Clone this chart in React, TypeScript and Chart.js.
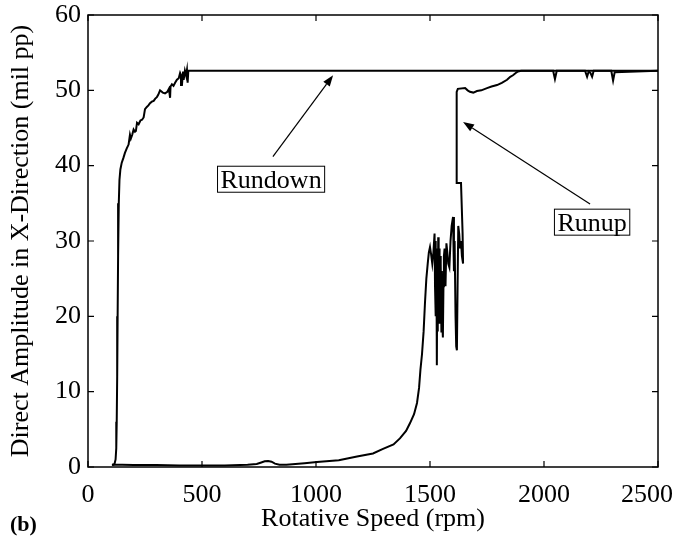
import React, { useEffect, useRef } from "react";
import { Chart, registerables } from "chart.js";

Chart.register(...registerables);

const FONT = "'Liberation Serif', 'Times New Roman', serif";

// Axis ticks
const xTicks = [0, 500, 1000, 1500, 2000, 2500];
const yTicks = [0, 10, 20, 30, 40, 50, 60];

// Rundown (speed decreasing)
const rundownSpeed = [
  2500, 440, 437, 434, 430, 425, 420, 417, 412, 408,
  404, 398, 390, 382, 375, 368, 362, 360, 355, 348,
  338, 328, 316, 308, 302, 295, 288, 280, 272, 265,
  258, 250, 244, 237, 230, 222, 215, 210, 206, 200,
  194, 188, 184, 178, 170, 162, 155, 148, 142, 138,
  135, 132, 130, 128, 126, 124, 121, 117, 112, 105,
];
const rundownAmp = [
  52.6, 52.6, 51.0, 52.7, 52.0, 52.6, 51.5, 52.5, 50.7, 52.0,
  52.3, 51.6, 51.4, 51.0, 50.6, 50.8, 50.5, 49.0, 50.2, 49.8,
  49.6, 49.7, 50.0, 49.4, 49.1, 48.9, 48.6, 48.5, 48.3, 48.0,
  47.8, 47.5, 46.4, 46.1, 46.0, 45.5, 45.7, 44.6, 44.5, 44.8,
  44.1, 43.6, 44.1, 42.8, 42.3, 41.7, 41.0, 40.4, 39.5, 38.1,
  35.0, 28.0, 20.0, 12.0, 6.0, 2.5, 1.0, 0.5, 0.3, 0.3,
];

// Runup (speed increasing)
const runupSpeed = [
  105, 150, 200, 300, 400, 500, 600, 700, 740, 760,
  775, 790, 805, 820, 840, 870, 950, 1004, 1100, 1180,
  1250, 1294, 1340, 1368, 1395, 1412, 1430, 1443, 1452, 1458,
  1465, 1472, 1478, 1484, 1490, 1495, 1500, 1505, 1510, 1515,
  1520, 1522, 1524, 1526, 1528, 1530, 1532, 1534, 1536, 1538,
  1540, 1542, 1544, 1546, 1548, 1550, 1552, 1554, 1556, 1557,
  1559, 1561, 1564, 1568, 1572, 1576, 1580, 1585, 1590, 1595,
  1601, 1605, 1608, 1612, 1615, 1618, 1621, 1624, 1628, 1632,
  1636, 1640, 1645, 1643, 1636, 1618, 1617, 1622, 1654, 1665,
  1675, 1690, 1706, 1725, 1750, 1770, 1794, 1815, 1838, 1852,
  1864, 1876, 1886, 1900, 2040, 2048, 2056, 2180, 2189, 2196,
  2204, 2211, 2218, 2295, 2303, 2310, 2500,
];
const runupAmp = [
  0.3, 0.3, 0.25, 0.25, 0.2, 0.2, 0.2, 0.3, 0.4, 0.6,
  0.75, 0.8, 0.7, 0.45, 0.3, 0.3, 0.5, 0.65, 0.9, 1.4,
  1.8, 2.4, 3.0, 3.8, 4.8, 5.8, 7.0, 8.5, 10.5, 12.9,
  15.0, 18.0, 21.8, 25.0, 27.0, 28.5, 29.2, 28.2, 27.0, 28.5,
  31.0, 24.0, 30.0, 20.0, 29.0, 13.5, 27.0, 18.0, 30.5, 21.0,
  29.0, 19.0, 28.0, 20.0, 27.0, 18.0, 26.0, 19.0, 25.0, 17.2,
  24.0, 28.0, 29.0, 24.0, 29.7, 28.5, 27.0, 26.5, 30.0, 32.0,
  33.2, 26.0, 30.0, 20.0, 16.0, 15.5, 24.0, 32.0, 31.0, 29.0,
  30.0, 28.0, 27.0, 31.0, 37.7, 37.7, 49.8, 50.2, 50.3, 50.0,
  49.8, 49.7, 49.9, 50.0, 50.3, 50.5, 50.7, 51.0, 51.4, 51.8,
  52.0, 52.3, 52.5, 52.6, 52.6, 51.5, 52.6, 52.6, 51.8, 52.5,
  52.3, 51.8, 52.6, 52.6, 51.3, 52.4, 52.6,
];

// Annotations (data coordinates)
const noteText = ["Rundown", "Runup"];
const noteX = [803, 2211];
const noteY = [38.2, 32.5];
const arrowTailX = [811, 2202];
const arrowTailY = [41.2, 34.9];
const arrowHeadX = [1075, 1645];
const arrowHeadY = [52.0, 45.8];

export default function App() {
  const ref = useRef<HTMLCanvasElement>(null);

  useEffect(() => {
    if (!ref.current) return;

    const framePlugin = {
      id: "frame",
      afterDraw(chart: any) {
        const ctx = chart.ctx as CanvasRenderingContext2D;
        const { left, right, top, bottom } = chart.chartArea;
        const xs = chart.scales.x;
        const ys = chart.scales.y;
        ctx.save();
        ctx.strokeStyle = "#000";
        ctx.lineWidth = 1.5;
        ctx.strokeRect(left, top, right - left, bottom - top);
        ctx.lineWidth = 1.2;
        const tl = 6;
        ctx.beginPath();
        xTicks.forEach((v) => {
          const px = xs.getPixelForValue(v);
          ctx.moveTo(px, bottom);
          ctx.lineTo(px, bottom - tl);
          ctx.moveTo(px, top);
          ctx.lineTo(px, top + tl);
        });
        yTicks.forEach((v) => {
          const py = ys.getPixelForValue(v);
          ctx.moveTo(left, py);
          ctx.lineTo(left + tl, py);
          ctx.moveTo(right, py);
          ctx.lineTo(right - tl, py);
        });
        ctx.stroke();

        // x tick labels (last one kept inside the canvas)
        ctx.fillStyle = "#000";
        ctx.font = `26px ${FONT}`;
        ctx.textAlign = "center";
        ctx.textBaseline = "alphabetic";
        xTicks.forEach((v) => {
          const t = String(v);
          const w = ctx.measureText(t).width;
          let cx = xs.getPixelForValue(v);
          const maxRight = chart.width - 8;
          if (cx + w / 2 > maxRight) cx = maxRight - w / 2;
          ctx.fillText(t, cx, bottom + 35);
        });

        // annotations
        noteText.forEach((t, i) => {
          const cx = xs.getPixelForValue(noteX[i]);
          const cy = ys.getPixelForValue(noteY[i]);
          const w = ctx.measureText(t).width;
          ctx.fillStyle = "#fff";
          ctx.fillRect(cx - w / 2 - 3, cy - 13, w + 6, 26);
          ctx.fillStyle = "#000";
          ctx.lineWidth = 1;
          ctx.strokeRect(cx - w / 2 - 3, cy - 13, w + 6, 26);
          ctx.textAlign = "center";
          ctx.textBaseline = "alphabetic";
          ctx.fillText(t, cx, cy + 9);

          const x0 = xs.getPixelForValue(arrowTailX[i]);
          const y0 = ys.getPixelForValue(arrowTailY[i]);
          const x1 = xs.getPixelForValue(arrowHeadX[i]);
          const y1 = ys.getPixelForValue(arrowHeadY[i]);
          const ang = Math.atan2(y1 - y0, x1 - x0);
          const hl = 11;
          const hw = 4;
          const bx = x1 - hl * Math.cos(ang);
          const by = y1 - hl * Math.sin(ang);
          ctx.lineWidth = 1.2;
          ctx.beginPath();
          ctx.moveTo(x0, y0);
          ctx.lineTo(bx, by);
          ctx.stroke();
          ctx.beginPath();
          ctx.moveTo(x1, y1);
          ctx.lineTo(bx + hw * Math.sin(ang), by - hw * Math.cos(ang));
          ctx.lineTo(bx - hw * Math.sin(ang), by + hw * Math.cos(ang));
          ctx.closePath();
          ctx.fill();
        });

        ctx.font = `bold 22px ${FONT}`;
        ctx.textAlign = "left";
        ctx.textBaseline = "alphabetic";
        ctx.fillText("(b)", 10, 531);
        ctx.restore();
      },
    };

    const chart = new Chart(ref.current, {
      type: "scatter",
      data: {
        datasets: [
          {
            label: "Rundown",
            data: rundownSpeed.map((x, i) => ({ x, y: rundownAmp[i] })),
            showLine: true,
            borderColor: "#000",
            backgroundColor: "#000",
            borderWidth: 2,
            pointRadius: 0,
            tension: 0,
          },
          {
            label: "Runup",
            data: runupSpeed.map((x, i) => ({ x, y: runupAmp[i] })),
            showLine: true,
            borderColor: "#000",
            backgroundColor: "#000",
            borderWidth: 2,
            pointRadius: 0,
            tension: 0,
          },
        ],
      },
      options: {
        animation: false,
        responsive: false,
        devicePixelRatio: 1,
        layout: { padding: { top: 15, right: 23, left: 0, bottom: 0 } },
        plugins: { legend: { display: false }, tooltip: { enabled: false } },
        scales: {
          x: {
            type: "linear",
            min: 0,
            max: 2500,
            afterBuildTicks: (s: any) => {
              s.ticks = xTicks.map((v) => ({ value: v }));
            },
            afterFit: (s: any) => {
              s.height = 74;
              s.paddingLeft = 0;
              s.paddingRight = 0;
            },
            ticks: { display: false },
            grid: { display: false, drawTicks: false },
            border: { display: false },
            title: {
              display: true,
              text: "Rotative Speed (rpm)",
              color: "#000",
              font: { family: FONT, size: 26 },
              padding: { top: 0, bottom: 6 },
            },
          },
          y: {
            type: "linear",
            min: 0,
            max: 60,
            afterBuildTicks: (s: any) => {
              s.ticks = yTicks.map((v) => ({ value: v }));
            },
            afterFit: (s: any) => {
              s.width = 88;
              s.paddingTop = 0;
              s.paddingBottom = 0;
            },
            ticks: {
              color: "#000",
              font: { family: FONT, size: 26 },
              padding: 7,
              callback: (v: any) => String(v),
            },
            grid: { display: false, drawTicks: false },
            border: { display: false },
            title: {
              display: true,
              text: "Direct Amplitude in X-Direction (mil pp)",
              color: "#000",
              font: { family: FONT, size: 26 },
              padding: { top: 6, bottom: 0 },
            },
          },
        },
      },
      plugins: [framePlugin],
    });

    return () => chart.destroy();
  }, []);

  return (
    <div style={{ position: "absolute", left: 0, top: 0, width: 681, height: 541, background: "#fff" }}>
      <canvas ref={ref} width={681} height={541} style={{ display: "block" }} />
    </div>
  );
}
